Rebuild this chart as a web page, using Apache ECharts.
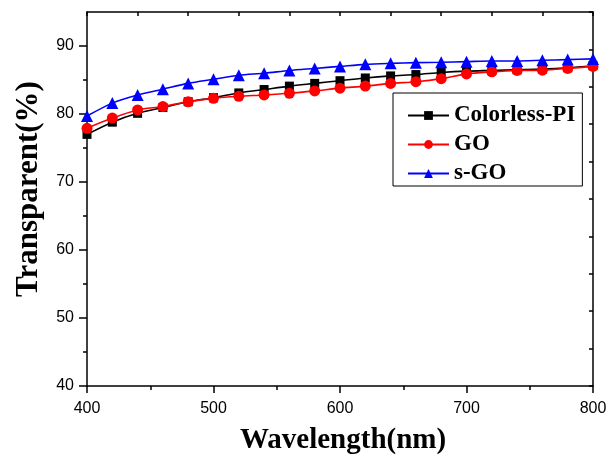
<!DOCTYPE html>
<html>
<head>
<meta charset="utf-8">
<script src="https://cdn.jsdelivr.net/npm/echarts@6/dist/echarts.min.js"></script>
<style>
html,body{margin:0;padding:0;background:#fff;}
#chart{width:610px;height:455px;}
</style>
</head>
<body>
<div id="chart"></div>
<script>
const wavelengths = [400,420,440,460,480,500,520,540,560,580,600,620,640,660,680,700,720,740,760,780,800];
const colorlessPI = [77.0,78.8,80.1,80.95,81.8,82.4,83.1,83.6,84.1,84.5,84.9,85.3,85.6,85.8,86.1,86.3,86.4,86.5,86.6,86.8,87.1];
const goValues    = [77.9,79.4,80.6,81.1,81.8,82.3,82.6,82.8,83.05,83.4,83.8,84.1,84.5,84.75,85.2,85.9,86.2,86.4,86.45,86.7,87.0];
const sgoValues   = [79.7,81.6,82.8,83.65,84.5,85.1,85.7,86.0,86.4,86.7,87.0,87.3,87.45,87.55,87.6,87.7,87.8,87.8,87.9,88.0,88.1];
const yMajorTicks = [40,50,60,70,80,90];
const yMinorTicks = [45,55,65,75,85];
const seriesNames = ['Colorless-PI','GO','s-GO'];

const pairs = vals => wavelengths.map((w,i)=>[w, vals[i]]);
const labelFont = {color:'#000', fontSize:16, fontFamily:'Liberation Sans, Arial, sans-serif'};
const lineStyle = {color:'#000', width:1.5};

const chart = echarts.init(document.getElementById('chart'), null, {renderer:'canvas'});
chart.setOption({
  backgroundColor:'#fff',
  animation:false,
  grid:{left:87, right:17, top:12, bottom:69, containLabel:false},
  legend:{
    orient:'vertical', left:393, top:93,
    data:seriesNames,
    borderColor:'#000', borderWidth:1,
    padding:[11,7,1,14],
    itemWidth:41, itemHeight:11, itemGap:6,
    textStyle:{color:'#000', fontSize:23, fontWeight:'bold', fontFamily:'Liberation Serif, Times New Roman, serif'}
  },
  xAxis:[
    {type:'value', min:400, max:800, interval:100, position:'bottom',
     axisLine:{show:true, onZero:false, lineStyle}, 
     axisTick:{show:true, inside:false, length:7, lineStyle},
     minorTick:{show:true, splitNumber:2, length:4, lineStyle},
     axisLabel:{...labelFont, margin:15},
     splitLine:{show:false}},
    {type:'value', min:0, max:10, interval:1, position:'top',
     axisLine:{show:true, onZero:false, lineStyle},
     axisTick:{show:true, inside:true, length:4, lineStyle},
     axisLabel:{show:false}, splitLine:{show:false}}
  ],
  yAxis:[
    {type:'value', min:40, max:95, interval:5, position:'left',
     axisLine:{show:true, onZero:false, lineStyle},
     axisTick:{show:true, inside:false, length:8, lineStyle, customValues:yMajorTicks},
     axisLabel:{...labelFont, margin:13, customValues:yMajorTicks},
     splitLine:{show:false}},
    {type:'value', min:0, max:10, interval:1, position:'right',
     axisLine:{show:true, onZero:false, lineStyle},
     axisTick:{show:true, inside:true, length:4, lineStyle},
     axisLabel:{show:false}, splitLine:{show:false}},
    {type:'value', min:40, max:95, interval:5, position:'left',
     axisLine:{show:false},
     axisTick:{show:true, inside:false, length:4, lineStyle, customValues:yMinorTicks},
     axisLabel:{show:false}, splitLine:{show:false}}
  ],
  graphic:[
    {type:'text', x:343, y:441,
     style:{text:'Wavelength(nm)', fill:'#000', align:'center', verticalAlign:'middle', font:'bold 29px "Liberation Serif", "Times New Roman", serif'}},
    {type:'text', rotation:Math.PI/2, x:29, y:189,
     style:{text:'Transparent(%)', fill:'#000', align:'center', verticalAlign:'middle', font:'bold 31px "Liberation Serif", "Times New Roman", serif'}}
  ],
  series:[
    {name:seriesNames[0], type:'line', xAxisIndex:0, yAxisIndex:0, data:pairs(colorlessPI),
     symbol:'rect', symbolSize:9, smooth:0.3, color:'#000',
     lineStyle:{color:'#000', width:1.6}, itemStyle:{color:'#000'}},
    {name:seriesNames[1], type:'line', xAxisIndex:0, yAxisIndex:0, data:pairs(goValues),
     symbol:'circle', symbolSize:11, smooth:0.3, color:'#ff0000',
     lineStyle:{color:'#ff0000', width:1.6}, itemStyle:{color:'#ff0000'}},
    {name:seriesNames[2], type:'line', xAxisIndex:0, yAxisIndex:0, data:pairs(sgoValues),
     symbol:'triangle', symbolSize:12, smooth:0.3, color:'#0000ff',
     lineStyle:{color:'#0000ff', width:1.6}, itemStyle:{color:'#0000ff'}}
  ]
});
</script>
</body>
</html>
